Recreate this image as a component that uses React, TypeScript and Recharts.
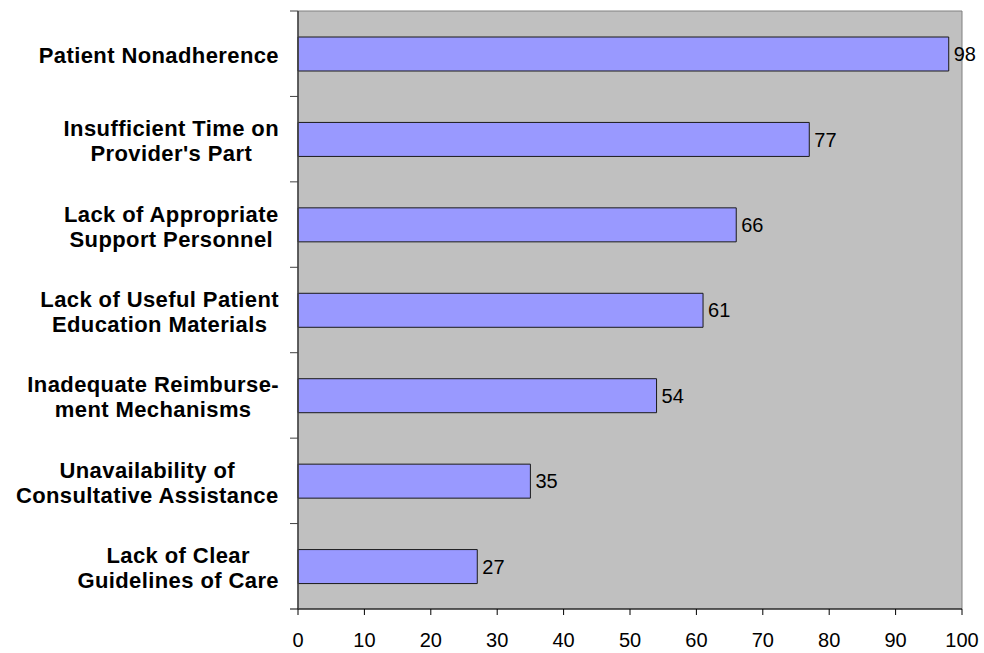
import { BarChart, Bar, XAxis, YAxis, ReferenceArea, LabelList } from "recharts"

// survey results: barriers reported, number of respondents
const categories = [
  "Patient Nonadherence",
  "Insufficient Time on\nProvider's Part",
  "Lack of Appropriate\nSupport Personnel",
  "Lack of Useful Patient\nEducation Materials",
  "Inadequate Reimburse-\nment Mechanisms",
  "Unavailability of\nConsultative Assistance",
  "Lack of Clear\nGuidelines of Care",
]
const values = [98, 77, 66, 61, 54, 35, 27]
const xTicks = [0, 10, 20, 30, 40, 50, 60, 70, 80, 90, 100]

const data = categories.map((name, i) => ({ name, value: values[i] }))

const WIDTH = 984
const HEIGHT = 653
const TOP = 11
const X_AXIS_H = 44
const Y_AXIS_W = 298
const BAND = (HEIGHT - TOP - X_AXIS_H) / categories.length

const FONT = "'Liberation Sans', Arial, sans-serif"
const LABEL_FONT = `bold 22px ${FONT}`
const LETTER_SPACING = 0.4

let ctx: CanvasRenderingContext2D | null = null
function measure(text: string) {
  if (!ctx) ctx = document.createElement("canvas").getContext("2d")
  if (!ctx) return text.length * 12
  ctx.font = LABEL_FONT
  return ctx.measureText(text).width + text.length * LETTER_SPACING
}

// multi-line category label, centred lines, block right-aligned to the axis
function CategoryTick(props: any) {
  const { y, payload, index } = props
  const lines = String(payload.value).split("\n")
  const maxW = Math.max(...lines.map(measure))
  const cx = Y_AXIS_W - 19 - maxW / 2
  const baselines = lines.length === 1 ? [y + 9.5] : [y - 3, y + 22]
  const top = y - BAND / 2
  return (
    <g>
      <line x1={Y_AXIS_W - 8} x2={Y_AXIS_W} y1={top} y2={top} stroke="#404040" />
      {index === categories.length - 1 && (
        <line x1={Y_AXIS_W - 8} x2={Y_AXIS_W} y1={y + BAND / 2} y2={y + BAND / 2} stroke="#000" />
      )}
      {lines.map((line, i) => (
        <text
          key={i}
          x={cx}
          y={baselines[i]}
          textAnchor="middle"
          fontFamily={FONT}
          fontWeight="bold"
          fontSize={22}
          letterSpacing={LETTER_SPACING}
          fill="#000"
        >
          {line}
        </text>
      ))}
    </g>
  )
}

export default function App() {
  return (
    <div style={{ position: "absolute", left: 0, top: 0, width: WIDTH, height: HEIGHT, background: "#fff", fontFamily: FONT }}>
      <BarChart
        width={WIDTH}
        height={HEIGHT}
        data={data}
        layout="vertical"
        margin={{ top: TOP, right: 22, bottom: 0, left: 0 }}
        barCategoryGap="30%"
      >
        <ReferenceArea x1={0} x2={100} fill="#C0C0C0" fillOpacity={1} stroke="#808080" strokeWidth={1} />
        <XAxis
          type="number"
          domain={[0, 100]}
          ticks={xTicks}
          height={X_AXIS_H}
          tickSize={6}
          tickMargin={18}
          axisLine={{ stroke: "#000" }}
          tickLine={{ stroke: "#000" }}
          tick={{ fill: "#000", fontSize: 20, fontFamily: FONT }}
        />
        <YAxis
          type="category"
          dataKey="name"
          width={Y_AXIS_W}
          tickLine={false}
          axisLine={{ stroke: "#404040", strokeWidth: 1.5 }}
          tick={<CategoryTick />}
          interval={0}
        />
        <Bar dataKey="value" fill="#9999FF" stroke="#1a1a1a" strokeWidth={1} barSize={34} isAnimationActive={false}>
          <LabelList dataKey="value" position="right" offset={5} fill="#000" fontSize={20} fontFamily={FONT} />
        </Bar>
      </BarChart>
    </div>
  )
}
